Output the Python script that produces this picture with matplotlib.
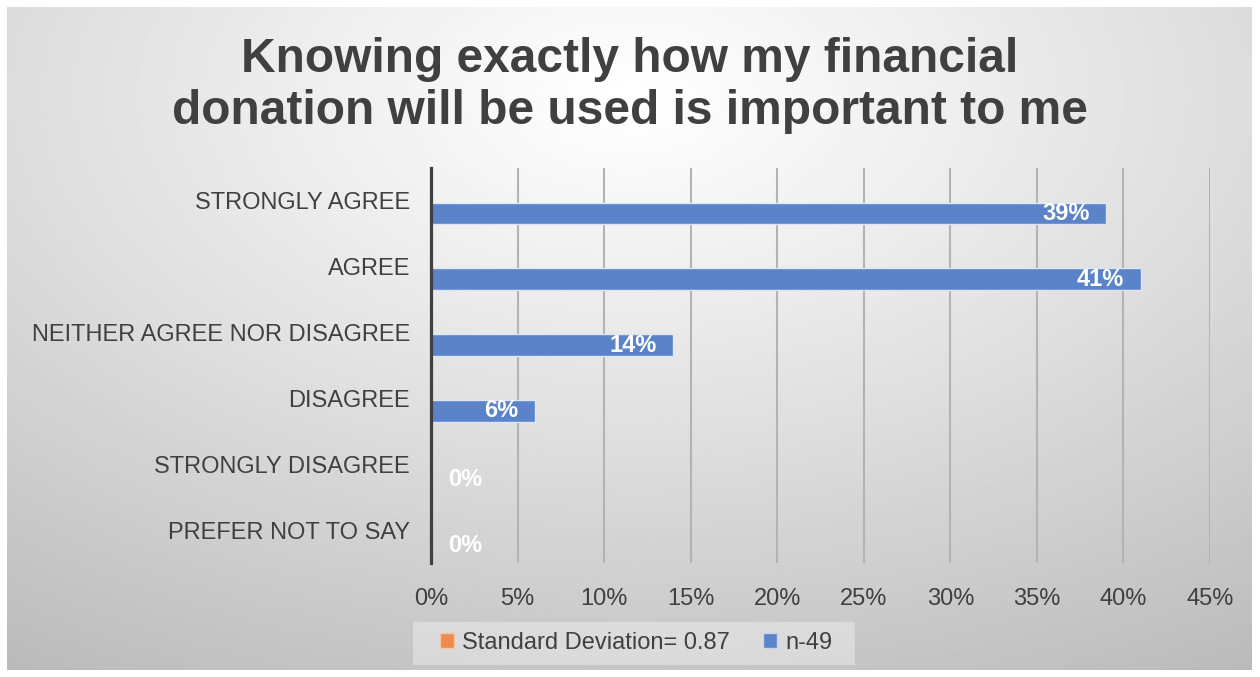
import numpy as np
import matplotlib
matplotlib.use("Agg")
import matplotlib.pyplot as plt
from matplotlib.patches import Patch, Rectangle

plt.rcParams['font.family'] = ['Liberation Sans', 'DejaVu Sans']

# survey answers and share of respondents (percent)
categories = ["STRONGLY AGREE", "AGREE", "NEITHER AGREE NOR DISAGREE",
              "DISAGREE", "STRONGLY DISAGREE", "PREFER NOT TO SAY"]
shares = [39, 41, 14, 6, 0, 0]
xticks = [0, 5, 10, 15, 20, 25, 30, 35, 40, 45]
series_names = ["Standard Deviation= 0.87", "n-49"]

text_col = "#404040"
blue = "#5B83C9"
orange = "#ED8B4E"

W, H = 1260, 677
fig = plt.figure(figsize=(W / 100, H / 100), dpi=100)

# radial grey background behind the chart
bg = fig.add_axes([7/W, 7/H, 1245/W, 663/H])
yy, xx = np.mgrid[0:300, 0:600]
cx, cy = 300, 40
r = np.sqrt(((xx - cx) / 600) ** 2 + ((yy - cy) / 330) ** 2)
r = r / r.max()
shade = 1.0 - 0.27 * r ** 1.1
bg.imshow(shade, cmap="gray", vmin=0, vmax=1, aspect="auto",
          extent=[0, 1, 0, 1], origin="upper", interpolation="bilinear")
bg.set_axis_off()

ax = fig.add_axes([431/W, 1 - 563/H, 779/W, 395/H])
ax.patch.set_alpha(0)

pos = np.arange(len(categories))
bar_pos = pos + 0.19
ax.barh(bar_pos, shares, height=0.33, color=blue, edgecolor="#dfe6f3",
        linewidth=1.0, zorder=3)

for y, v in zip(bar_pos, shares):
    if v > 0:
        ax.annotate(f"{v}%", (v, y), xytext=(-12, 0), textcoords="offset points",
                    ha="right", va="center", color="white", fontsize=17,
                    fontweight="bold", zorder=4)
    else:
        ax.annotate(f"{v}%", (v, y), xytext=(12, -2), textcoords="offset points",
                    ha="left", va="center", color="white", fontsize=17,
                    fontweight="bold", zorder=4)

ax.set_xlim(0, 45)
ax.set_ylim(len(categories) - 0.5, -0.5)
ax.set_xticks(xticks)
ax.set_xticklabels([f"{t}%" for t in xticks])
ax.set_yticks(pos)
ax.set_yticklabels(categories)
ax.tick_params(axis="both", length=0, labelsize=17, colors=text_col)
ax.tick_params(axis="x", pad=18)
ax.tick_params(axis="y", pad=15)
ax.xaxis.grid(True, color="#b3b3b3", linewidth=1.5, zorder=0)
ax.set_axisbelow(True)
for s in ["top", "right", "bottom"]:
    ax.spines[s].set_visible(False)
ax.spines["left"].set_color(text_col)
ax.spines["left"].set_linewidth(2.3)
ax.spines["left"].set_zorder(5)

fig.text(0.5, 1 - 85/H, "Knowing exactly how my financial\ndonation will be used is important to me",
         ha="center", va="center", fontsize=34.5, fontweight="bold",
         color=text_col, linespacing=1.2)

# light band behind the legend
fig.patches.append(Rectangle((413/W, 1 - 665/H), 442/W, 43/H,
                             transform=fig.transFigure, facecolor="white",
                             alpha=0.35, edgecolor="none"))

handles = [Patch(facecolor=orange, edgecolor="#f3c6a8"),
           Patch(facecolor=blue, edgecolor="#c7d4ee")]
leg = fig.legend(handles, series_names, loc="center", ncol=2,
                 bbox_to_anchor=(636/W, 1 - 643/H), fontsize=17,
                 handlelength=0.6, handleheight=0.6, handletextpad=0.35,
                 columnspacing=1.4, borderaxespad=0.0, frameon=False)
for t in leg.get_texts():
    t.set_color(text_col)

fig.savefig("out.png", dpi=100)
